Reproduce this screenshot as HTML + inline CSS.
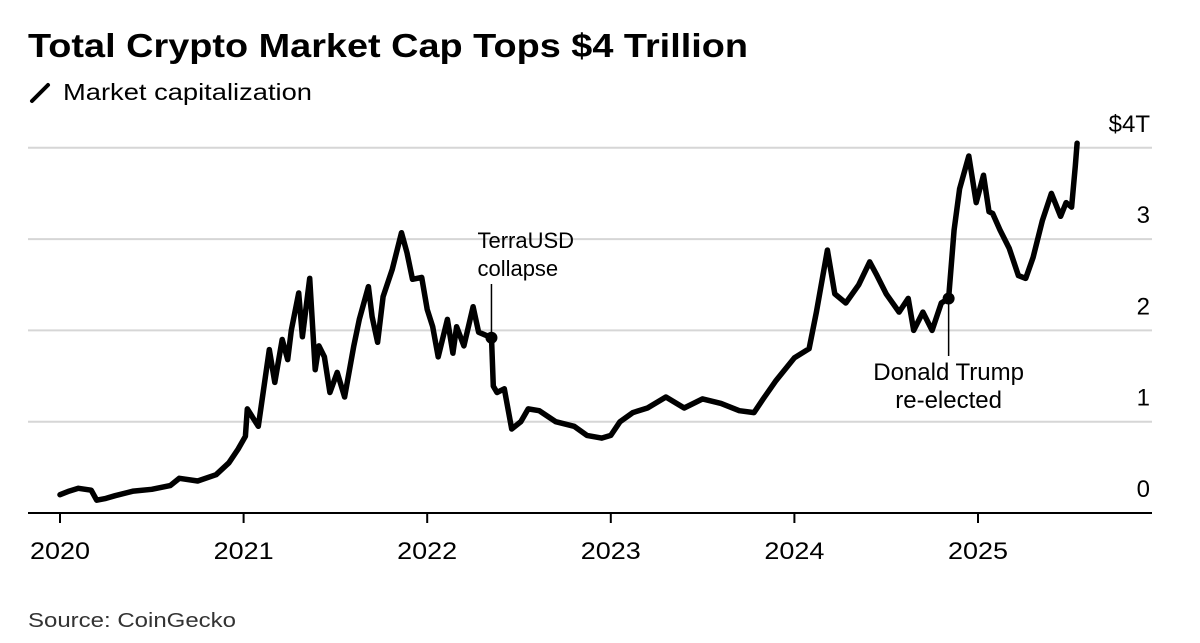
<!DOCTYPE html>
<html><head><meta charset="utf-8">
<style>
body{margin:0;background:#fff;font-family:"Liberation Sans",Arial,sans-serif;}
#wrap{position:relative;width:1200px;height:643px;overflow:hidden;}
</style></head>
<body>
<div id="wrap">
<svg id="chart" width="1200" height="643">
  <text x="28" y="57" font-size="33" font-weight="bold" fill="#000" textLength="720" lengthAdjust="spacingAndGlyphs">Total Crypto Market Cap Tops $4 Trillion</text>
  <g>
    <line x1="32" y1="101" x2="48" y2="85" stroke="#000" stroke-width="4" stroke-linecap="round"/>
    <text x="63" y="100" font-size="23" fill="#000" textLength="249" lengthAdjust="spacingAndGlyphs">Market capitalization</text>
  </g>
  <g id="grid"></g>
  <g id="yticks"></g>
  <g id="xaxis"></g>
  <path id="series" fill="none" stroke="#000" stroke-width="5.5" stroke-linejoin="round" stroke-linecap="round"/>
  <g id="annos"></g>
  <text x="28" y="627" font-size="20" fill="#333" textLength="208" lengthAdjust="spacingAndGlyphs">Source: CoinGecko</text>
</svg>
</div>
<script>
const dates=[2020.0,2020.05,2020.1,2020.17,2020.2,2020.25,2020.3,2020.4,2020.5,2020.6,2020.65,2020.75,2020.85,2020.92,2020.97,2021.01,2021.02,2021.08,2021.14,2021.17,2021.21,2021.24,2021.26,2021.30,2021.32,2021.36,2021.39,2021.41,2021.44,2021.47,2021.51,2021.55,2021.60,2021.63,2021.68,2021.70,2021.73,2021.76,2021.81,2021.86,2021.89,2021.92,2021.97,2022.0,2022.03,2022.06,2022.11,2022.14,2022.16,2022.20,2022.25,2022.28,2022.35,2022.36,2022.38,2022.42,2022.46,2022.51,2022.55,2022.61,2022.7,2022.8,2022.87,2022.95,2023.0,2023.05,2023.12,2023.2,2023.3,2023.4,2023.5,2023.6,2023.7,2023.78,2023.83,2023.9,2024.0,2024.08,2024.12,2024.18,2024.22,2024.28,2024.35,2024.41,2024.45,2024.5,2024.57,2024.62,2024.65,2024.7,2024.75,2024.8,2024.84,2024.87,2024.9,2024.95,2024.99,2025.03,2025.06,2025.08,2025.12,2025.17,2025.22,2025.26,2025.3,2025.35,2025.4,2025.45,2025.48,2025.51,2025.53,2025.54];
const values=[0.20,0.24,0.27,0.25,0.14,0.16,0.19,0.24,0.26,0.30,0.38,0.35,0.42,0.55,0.70,0.84,1.14,0.95,1.79,1.43,1.90,1.68,2.00,2.41,1.93,2.57,1.57,1.83,1.71,1.32,1.54,1.27,1.83,2.12,2.48,2.15,1.87,2.37,2.67,3.07,2.85,2.56,2.58,2.23,2.04,1.71,2.12,1.75,2.04,1.83,2.26,1.98,1.92,1.39,1.32,1.36,0.92,1.00,1.14,1.12,1.00,0.95,0.85,0.82,0.85,1.00,1.10,1.15,1.27,1.15,1.25,1.20,1.12,1.10,1.25,1.45,1.70,1.80,2.20,2.88,2.40,2.30,2.50,2.75,2.60,2.40,2.20,2.35,2.00,2.20,2.00,2.30,2.35,3.10,3.55,3.91,3.40,3.70,3.30,3.28,3.10,2.90,2.60,2.57,2.80,3.20,3.50,3.25,3.40,3.35,3.80,4.05];
const yTicks=[0,1,2,3,4];
const yTickLabels=["0","1","2","3","$4T"];
const xTicks=[2020,2021,2022,2023,2024,2025];
const xTickLabels=["2020","2021","2022","2023","2024","2025"];
const annoDates=[2022.35,2024.84];
const annoValues=[1.92,2.35];
const annoLines=[["TerraUSD","collapse"],["Donald Trump","re-elected"]];

const X=t=>60+(t-2020)*183.6;
const Y=v=>513-v*91.3;
const NS="http://www.w3.org/2000/svg";
function mk(tag,attrs,parent){const e=document.createElementNS(NS,tag);for(const k in attrs)e.setAttribute(k,attrs[k]);parent.appendChild(e);return e;}
const grid=document.getElementById('grid'),yt=document.getElementById('yticks'),xa=document.getElementById('xaxis'),an=document.getElementById('annos');
yTicks.forEach((v,i)=>{
  if(v>0){const l=mk('line',{x1:28,x2:1152,y1:Y(v),y2:Y(v),stroke:'#d6d6d6','stroke-width':2},grid);
  
  }
  const t=mk('text',{x:1150,y:Y(v)-16,'font-size':24,'text-anchor':'end',fill:'#000'},yt);
  t.textContent=yTickLabels[i];
  
  
});
const ax=mk('line',{x1:28,x2:1152,y1:513,y2:513,stroke:'#000','stroke-width':2},xa);


xTicks.forEach((t,i)=>{
  const tk=mk('line',{x1:X(t),x2:X(t),y1:513,y2:523,stroke:'#000','stroke-width':2},xa);
  
  
  const lb=mk('text',{x:X(t),y:559,'font-size':24,'text-anchor':'middle',fill:'#000',textLength:60,lengthAdjust:'spacingAndGlyphs'},xa);
  lb.textContent=xTickLabels[i];
  
  
});
document.getElementById('series').setAttribute('d',dates.map((d,i)=>(i?'L':'M')+X(d).toFixed(1)+','+Y(values[i]).toFixed(1)).join(''));
annoDates.forEach((d,i)=>{
  const x=X(d),y=Y(annoValues[i]);
  const above=i===0;
  const ln=mk('line',{x1:x,x2:x,y1:above?284:y,y2:above?y:356,stroke:'#000','stroke-width':1.5},an);
  
  
  const c=mk('circle',{cx:x,cy:y,r:6,fill:'#000'},an);
  
  
  annoLines[i].forEach((s,j)=>{
    const t=mk('text',{x:above?x-14:x,y:above?(248+j*28):(380+j*28),'font-size':above?22:24,'text-anchor':above?'start':'middle',fill:'#000'},an);
    t.textContent=s;
    
    
  });
});
</script>
</body></html>
